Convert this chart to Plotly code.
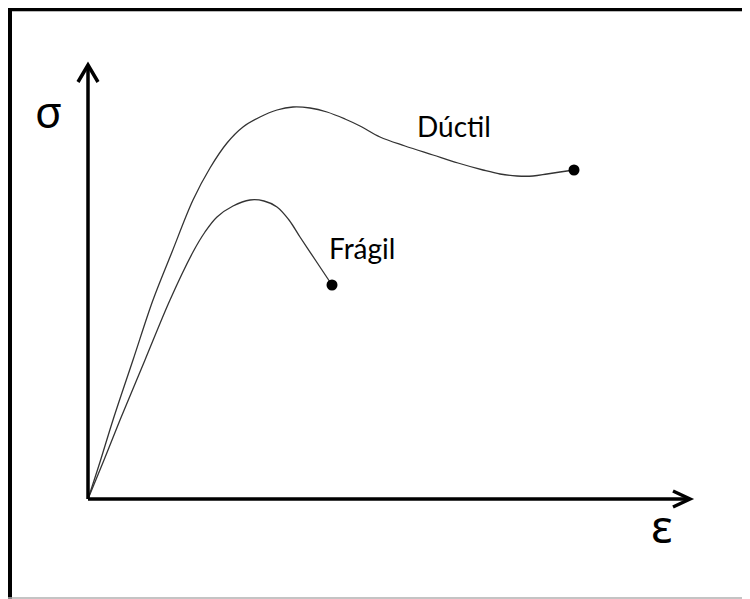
import plotly.graph_objects as go

# Schematic stress-strain curves (units: arbitrary)
ductil_strain = [0, 12, 25, 45, 65, 84, 105, 122, 139, 155, 172, 189, 205, 222, 239, 257, 272,
                 292, 317, 345, 370, 395, 412, 429, 445, 459, 472, 486]
ductil_stress = [0, 37, 79, 139, 199, 247, 299, 331, 356, 372, 382, 389, 392, 391, 387, 380, 373,
                 362, 353, 344, 336, 329, 325, 323, 323, 325, 327, 329]

fragil_strain = [0, 16, 32, 57, 82, 105, 117, 129, 145, 162, 176, 189, 201, 212, 228, 244]
fragil_stress = [0, 39, 79, 139, 199, 247, 267, 282, 293, 299, 298, 292, 279, 262, 238, 214]

curve_labels = ["Dúctil", "Frágil"]
axis_labels = ["σ", "ε"]

# The page body has an 8px margin: figure pixel = page pixel - 8
OFF = 8
W, H = 750, 599

fig = go.Figure()

line_style = dict(color="#333333", width=1.3, shape="spline", smoothing=1.0)
fig.add_trace(go.Scatter(x=ductil_strain, y=ductil_stress, mode="lines", line=line_style,
                         hoverinfo="skip", showlegend=False))
fig.add_trace(go.Scatter(x=fragil_strain, y=fragil_stress, mode="lines", line=line_style,
                         hoverinfo="skip", showlegend=False))
fig.add_trace(go.Scatter(x=[ductil_strain[-1], fragil_strain[-1]],
                         y=[ductil_stress[-1], fragil_stress[-1]],
                         mode="markers", marker=dict(color="black", size=11),
                         hoverinfo="skip", showlegend=False))


def px(x):
    return (x - OFF) / W


def py(y):
    return 1 - (y - OFF) / H


ax_w = 3.5
shapes = [
    # axes
    dict(type="line", x0=0, y0=0, x1=0, y1=433, line=dict(color="black", width=ax_w)),
    dict(type="line", x0=0, y0=0, x1=601, y1=0, line=dict(color="black", width=ax_w)),
    dict(type="path", path="M -10,417 L 0,434 L 10,417", line=dict(color="black", width=ax_w)),
    dict(type="path", path="M 585,8 L 602,0 L 585,-8", line=dict(color="black", width=ax_w)),
    # frame
    dict(type="line", xref="paper", yref="paper", x0=px(9.5), x1=1.01, y0=py(9.5), y1=py(9.5),
         line=dict(color="black", width=3)),
    dict(type="line", xref="paper", yref="paper", x0=px(10), x1=px(10), y0=py(8), y1=-0.01,
         line=dict(color="black", width=4)),
    dict(type="line", xref="paper", yref="paper", x0=0, x1=1, y0=py(598), y1=py(598),
         line=dict(color="#b0b0b0", width=1.5)),
    dict(type="line", xref="paper", yref="paper", x0=px(12), x1=1, y0=py(11.5), y1=py(11.5),
         line=dict(color="#b8b8b8", width=1)),
]

annotations = [
    dict(x=366, y=373, text=curve_labels[0], showarrow=False,
         font=dict(family="Lato, Open Sans, sans-serif", size=28, color="black")),
    dict(x=274, y=251, text=curve_labels[1], showarrow=False,
         font=dict(family="Lato, Open Sans, sans-serif", size=28, color="black")),
    dict(x=-40, y=388, text=axis_labels[0], showarrow=False,
         font=dict(family="Noto Sans, DejaVu Sans, sans-serif", size=44, color="black")),
    dict(x=574, y=-26, text=axis_labels[1], showarrow=False,
         font=dict(family="Noto Sans, DejaVu Sans, sans-serif", size=46, color="black")),
]

fig.update_layout(
    width=W, height=H,
    margin=dict(l=0, r=0, t=0, b=0),
    paper_bgcolor="white", plot_bgcolor="white",
    xaxis=dict(range=[-88 + OFF, 662 + OFF], visible=False, fixedrange=True),
    yaxis=dict(range=[-100 - OFF, 499 - OFF], visible=False, fixedrange=True),
    shapes=shapes, annotations=annotations,
)

fig.write_html("out.html")
